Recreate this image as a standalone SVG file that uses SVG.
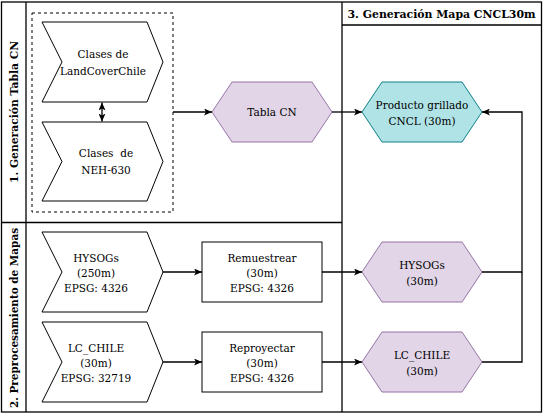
<svg xmlns="http://www.w3.org/2000/svg" width="545" height="415" viewBox="0 0 545 415" font-family="'DejaVu Serif', serif">
<defs>
<marker id="arr" viewBox="0 0 8 7" refX="8" refY="3.5" markerWidth="8" markerHeight="7" markerUnits="userSpaceOnUse" orient="auto-start-reverse">
<path d="M0,0 L8,3.5 L0,7 L2,3.5 Z" fill="#000"/>
</marker>
<style>
.frame{fill:none;stroke:#000;stroke-width:1.3}
.title{font-family:'DejaVu Serif',serif;font-weight:bold;font-size:11px;fill:#000;text-anchor:middle}
.t{font-family:'DejaVu Serif',serif;font-size:10.5px;fill:#000;text-anchor:middle}
.step{fill:#fff;stroke:#000;stroke-width:1}
.box{fill:#fff;stroke:#000;stroke-width:1}
.hexp{fill:#e1d5e7;stroke:#9673a6;stroke-width:1}
.hexc{fill:#b0e3e6;stroke:#0e8088;stroke-width:1}
.conn{fill:none;stroke:#000;stroke-width:1.3}
</style>
</defs>

<g id="pools">
<rect class="frame" x="1.5" y="2" width="540" height="410"/>
<line class="frame" x1="26" y1="2" x2="26" y2="412"/>
<line class="frame" x1="1.5" y1="222.5" x2="342" y2="222.5"/>
<line class="frame" x1="342" y1="2" x2="342" y2="412"/>
<line class="frame" x1="342" y1="25" x2="541.5" y2="25"/>
<text class="title" transform="translate(18,112) rotate(-90)" textLength="142" lengthAdjust="spacingAndGlyphs">1. Generación Tabla CN</text>
<text class="title" transform="translate(18,318) rotate(-90)" textLength="180" lengthAdjust="spacingAndGlyphs">2. Preprocesamiento de Mapas</text>
<text class="title" x="441.5" y="18" textLength="188" lengthAdjust="spacingAndGlyphs">3. Generación Mapa CNCL30m</text>
</g>

<g id="group-box">
<rect x="32" y="13" width="141" height="199" fill="none" stroke="#000" stroke-width="1" stroke-dasharray="3,3"/>
</g>

<g id="landcover">
<polygon class="step" points="42,22 147,22 163,62 147,102 42,102 62,62"/>
<text class="t" x="103" y="58">Clases de</text>
<text class="t" x="103" y="75">LandCoverChile</text>
</g>

<g id="neh">
<polygon class="step" points="42,122 147,122 163,161.5 147,201 42,201 62,161.5"/>
<text class="t" x="106" y="157" xml:space="preserve">Clases  de</text>
<text class="t" x="106" y="174">NEH-630</text>
</g>

<g id="tabla-cn">
<polygon class="hexp" points="212,112 232,82 312,82 332,112 312,142 232,142"/>
<text class="t" x="272" y="116">Tabla CN</text>
</g>

<g id="producto">
<polygon class="hexc" points="362,112 382,82 462,82 482,112 462,142 382,142"/>
<text class="t" x="422" y="108.5">Producto grillado</text>
<text class="t" x="422" y="124.5">CNCL (30m)</text>
</g>

<g id="hysogs-in">
<polygon class="step" points="42,232 147,232 163,272 147,312 42,312 62,272"/>
<text class="t" x="96" y="261.5">HYSOGs</text>
<text class="t" x="96" y="276.5">(250m)</text>
<text class="t" x="96" y="291.5">EPSG: 4326</text>
</g>

<g id="lcchile-in">
<polygon class="step" points="42,322 147,322 163,362 147,402 42,402 62,362"/>
<text class="t" x="96" y="351.5">LC_CHILE</text>
<text class="t" x="96" y="366.5">(30m)</text>
<text class="t" x="96" y="381.5">EPSG: 32719</text>
</g>

<g id="remuestrear">
<rect class="box" x="202" y="242" width="120" height="60"/>
<text class="t" x="262" y="261.5">Remuestrear</text>
<text class="t" x="262" y="276.5">(30m)</text>
<text class="t" x="262" y="291.5">EPSG: 4326</text>
</g>

<g id="reproyectar">
<rect class="box" x="202" y="332" width="120" height="60"/>
<text class="t" x="262" y="351.5">Reproyectar</text>
<text class="t" x="262" y="366.5">(30m)</text>
<text class="t" x="262" y="381.5">EPSG: 4326</text>
</g>

<g id="hysogs-out">
<polygon class="hexp" points="362,272 382,242 462,242 482,272 462,302 382,302"/>
<text class="t" x="422" y="268.5">HYSOGs</text>
<text class="t" x="422" y="284.5">(30m)</text>
</g>

<g id="lcchile-out">
<polygon class="hexp" points="362,362 382,332 462,332 482,362 462,392 382,392"/>
<text class="t" x="422" y="358.5">LC_CHILE</text>
<text class="t" x="422" y="374.5">(30m)</text>
</g>

<g id="connectors">
<path class="conn" d="M102,102.5 L102,121.5" marker-start="url(#arr)" marker-end="url(#arr)"/>
<path class="conn" d="M173,112 L212,112" marker-end="url(#arr)"/>
<path class="conn" d="M332,112 L362,112" marker-end="url(#arr)"/>
<path class="conn" d="M163,272 L202,272" marker-end="url(#arr)"/>
<path class="conn" d="M163,362 L202,362" marker-end="url(#arr)"/>
<path class="conn" d="M322,272 L362,272" marker-end="url(#arr)"/>
<path class="conn" d="M322,362 L362,362" marker-end="url(#arr)"/>
<path class="conn" d="M482,272 L522,272 L522,112 L482,112" marker-end="url(#arr)"/>
<path class="conn" d="M482,362 L522,362 L522,272"/>
</g>
</svg>
